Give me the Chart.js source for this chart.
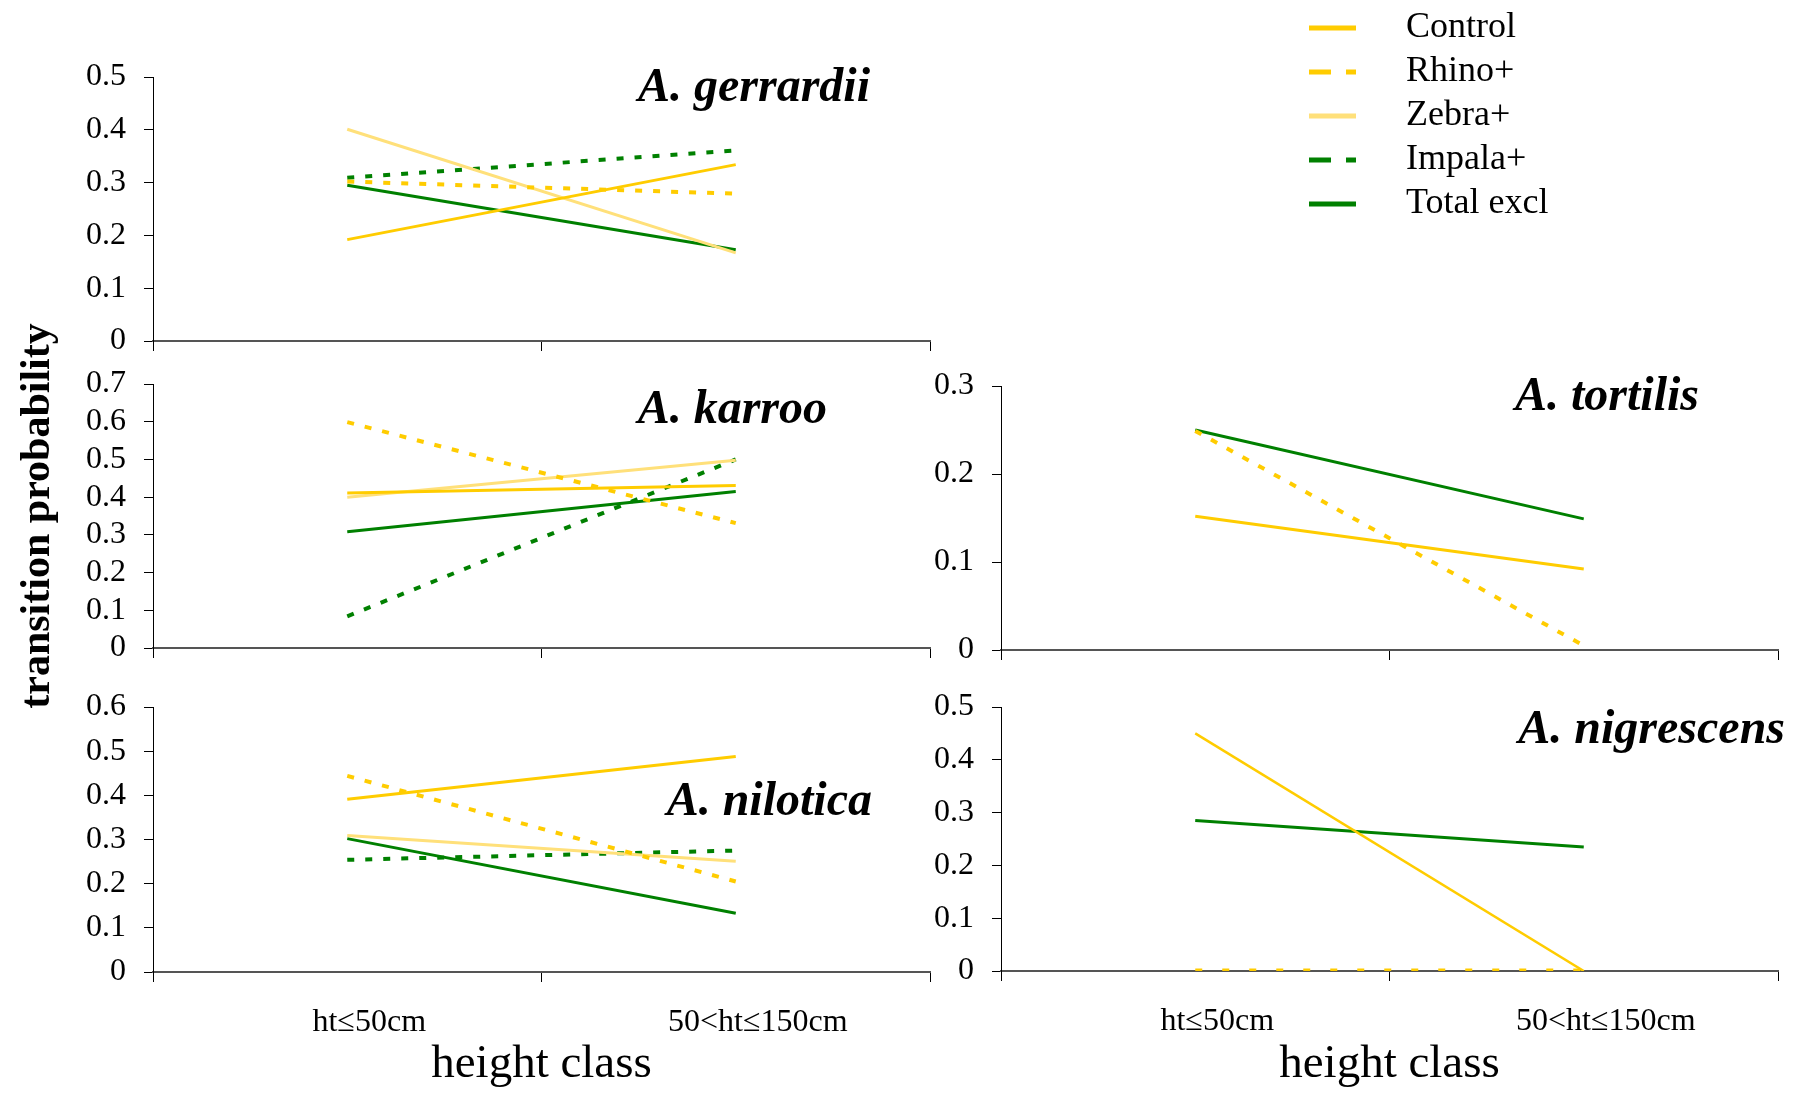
<!DOCTYPE html>
<html>
<head>
<meta charset="utf-8">
<title>Acacia transition probability by height class</title>
<script src="https://cdn.jsdelivr.net/npm/chart.js@4.4.1/dist/chart.umd.min.js"></script>
<style>
  html, body { margin: 0; padding: 0; background: #fff; }
  body { width: 1800px; height: 1093px; position: relative; overflow: hidden; }
  canvas { position: absolute; }
</style>
</head>
<body>
<canvas id="gerrardii" width="960" height="360" style="left:0px;top:0px"></canvas>
<canvas id="karroo" width="960" height="410" style="left:0px;top:310px"></canvas>
<canvas id="nilotica" width="960" height="433" style="left:0px;top:660px"></canvas>
<canvas id="tortilis" width="952" height="302" style="left:848px;top:360px"></canvas>
<canvas id="nigrescens" width="952" height="433" style="left:848px;top:660px"></canvas>
<canvas id="legend" width="340" height="480" style="left:1301px;top:2px"></canvas>
<script>
// categories and series names
const heightClasses = ["ht≤50cm", "50<ht≤150cm"];
const seriesNames = ["Control", "Rhino+", "Zebra+", "Impala+", "Total excl"];

// A. gerrardii
const gerrardiiControl = [0.192, 0.334];
const gerrardiiRhino = [0.302, 0.279];
const gerrardiiZebra = [0.401, 0.167];
const gerrardiiImpala = [0.309, 0.361];
const gerrardiiTotal = [0.295, 0.173];

// A. karroo
const karrooControl = [0.411, 0.431];
const karrooRhino = [0.599, 0.331];
const karrooZebra = [0.400, 0.498];
const karrooImpala = [0.084, 0.500];
const karrooTotal = [0.308, 0.415];

// A. nilotica
const niloticaControl = [0.391, 0.488];
const niloticaRhino = [0.444, 0.205];
const niloticaZebra = [0.309, 0.251];
const niloticaImpala = [0.254, 0.275];
const niloticaTotal = [0.302, 0.133];

// A. tortilis
const tortilisControl = [0.152, 0.092];
const tortilisRhino = [0.249, 0.005];
const tortilisTotal = [0.250, 0.149];

// A. nigrescens
const nigrescensControl = [0.450, 0];
const nigrescensRhino = [0, 0];
const nigrescensTotal = [0.285, 0.235];

const GOLD = "#ffcc00";
const PALE = "#ffe07a";
const GREEN = "#008000";
const DOT = [7, 11];

Chart.defaults.font.family = '"Liberation Serif", "Times New Roman", serif';
Chart.defaults.color = "#000";

const series = (label, data, color, dash, width) => ({
  label: label,
  data: data,
  borderColor: color,
  backgroundColor: color,
  borderWidth: width || 3,
  borderDash: dash || [],
  borderCapStyle: "butt",
  pointRadius: 0,
  tension: 0,
  fill: false,
});

// species name written inside the plot area
const speciesLabel = {
  id: "speciesLabel",
  afterDraw(chart, args, opts) {
    const {ctx, chartArea} = chart;
    ctx.save();
    ctx.font = 'italic bold 48px "Liberation Serif", serif';
    ctx.fillStyle = "#000";
    ctx.textAlign = "right";
    ctx.textBaseline = "alphabetic";
    ctx.fillText(opts.text, chartArea.right - opts.inset, chartArea.top + opts.drop);
    ctx.restore();
  },
};

const createPanel = (id, max, datasets, o) => {
  const ctx = document.getElementById(id).getContext("2d");
  return new Chart(ctx, {
    type: "line",
    data: {labels: heightClasses, datasets: datasets},
    plugins: [speciesLabel],
    options: {
      responsive: false,
      animation: false,
      events: [],
      layout: {padding: {top: o.padTop, right: o.padRight, left: 0, bottom: 0}},
      plugins: {
        legend: {display: false},
        tooltip: {enabled: false},
        speciesLabel: o.label,
      },
      scales: {
        x: {
          type: "category",
          offset: true,
          grid: {offset: true, drawOnChartArea: false, tickLength: 10, color: "#000", lineWidth: 1},
          border: {color: "#555", width: 2},
          ticks: {display: o.showX, font: {size: 32}, color: "#000", padding: 21, labelOffset: 22, maxRotation: 0, autoSkip: false},
          title: {display: o.showX, text: "height class", font: {size: 47}, color: "#000", padding: {top: 0, bottom: 0}},
          afterFit: (s) => { s.height = o.xHeight; },
        },
        y: {
          min: 0,
          max: max,
          ticks: {stepSize: 0.1, font: {size: 32, lineHeight: 1}, color: "#000", padding: 18},
          grid: {drawOnChartArea: false, tickLength: 9, color: "#000", lineWidth: 1},
          border: {color: "#000", width: 1},
          title: {
            display: !!o.yTitle,
            text: "transition probability",
            font: {size: 42, weight: "bold"},
            color: "#000",
            padding: {top: 13, bottom: 0},
          },
          afterFit: (s) => {
            s.width = 153;
            s.paddingTop = 0;
            s.paddingBottom = 0;
          },
        },
      },
    },
  });
};

createPanel("gerrardii", 0.5, [
  series("Control", gerrardiiControl, GOLD),
  series("Rhino+", gerrardiiRhino, GOLD, DOT, 4),
  series("Zebra+", gerrardiiZebra, PALE),
  series("Impala+", gerrardiiImpala, GREEN, DOT, 4),
  series("Total excl", gerrardiiTotal, GREEN),
], {padTop: 77, padRight: 30, xHeight: 19, showX: false, label: {text: "A. gerrardii", inset: 60, drop: 24}});

createPanel("karroo", 0.7, [
  series("Control", karrooControl, GOLD),
  series("Rhino+", karrooRhino, GOLD, DOT, 4),
  series("Zebra+", karrooZebra, PALE),
  series("Impala+", karrooImpala, GREEN, DOT, 4),
  series("Total excl", karrooTotal, GREEN),
], {padTop: 74, padRight: 30, xHeight: 72, showX: false, yTitle: true, label: {text: "A. karroo", inset: 103, drop: 39}});

createPanel("nilotica", 0.6, [
  series("Control", niloticaControl, GOLD),
  series("Rhino+", niloticaRhino, GOLD, DOT, 4),
  series("Zebra+", niloticaZebra, PALE),
  series("Impala+", niloticaImpala, GREEN, DOT, 4),
  series("Total excl", niloticaTotal, GREEN),
], {padTop: 47, padRight: 30, xHeight: 121, showX: true, label: {text: "A. nilotica", inset: 58, drop: 108}});

createPanel("tortilis", 0.3, [
  series("Control", tortilisControl, GOLD),
  series("Rhino+", tortilisRhino, GOLD, DOT, 4),
  series("Total excl", tortilisTotal, GREEN),
], {padTop: 26, padRight: 22, xHeight: 12, showX: false, label: {text: "A. tortilis", inset: 79, drop: 24}});

createPanel("nigrescens", 0.5, [
  series("Control", nigrescensControl, GOLD, [], 2.5),
  series("Rhino+", nigrescensRhino, GOLD, [7, 20], 5),
  series("Total excl", nigrescensTotal, GREEN),
], {padTop: 47, padRight: 22, xHeight: 122, showX: true, label: {text: "A. nigrescens", inset: -7, drop: 36}});

// legend swatches: short line samples on the left of a wider box
const legendColors = [GOLD, GOLD, PALE, GREEN, GREEN];
const legendDashes = [[], [22, 15], [], [22, 15], []];
const swatch = (color, dash) => {
  const c = document.createElement("canvas");
  c.width = 79;
  c.height = 6;
  const g = c.getContext("2d");
  g.strokeStyle = color;
  g.lineWidth = 5;
  g.setLineDash(dash);
  g.beginPath();
  g.moveTo(0, 3);
  g.lineTo(47, 3);
  g.stroke();
  return c;
};

new Chart(document.getElementById("legend").getContext("2d"), {
  type: "line",
  data: {
    labels: [],
    datasets: seriesNames.map((name, i) => series(name, [], legendColors[i], legendDashes[i])),
  },
  options: {
    responsive: false,
    animation: false,
    events: [],
    layout: {padding: 0},
    scales: {x: {display: false}, y: {display: false}},
    plugins: {
      tooltip: {enabled: false},
      legend: {
        position: "top",
        align: "start",
        labels: {
          usePointStyle: true,
          pointStyleWidth: 79,
          boxHeight: 6,
          padding: 8,
          color: "#000",
          font: {size: 36},
          generateLabels: (chart) => chart.data.datasets.map((ds, i) => ({
            text: ds.label,
            pointStyle: swatch(legendColors[i], legendDashes[i]),
            fontColor: "#000",
            lineWidth: 0,
            hidden: false,
            datasetIndex: i,
          })),
        },
      },
    },
  },
});
</script>
</body>
</html>
